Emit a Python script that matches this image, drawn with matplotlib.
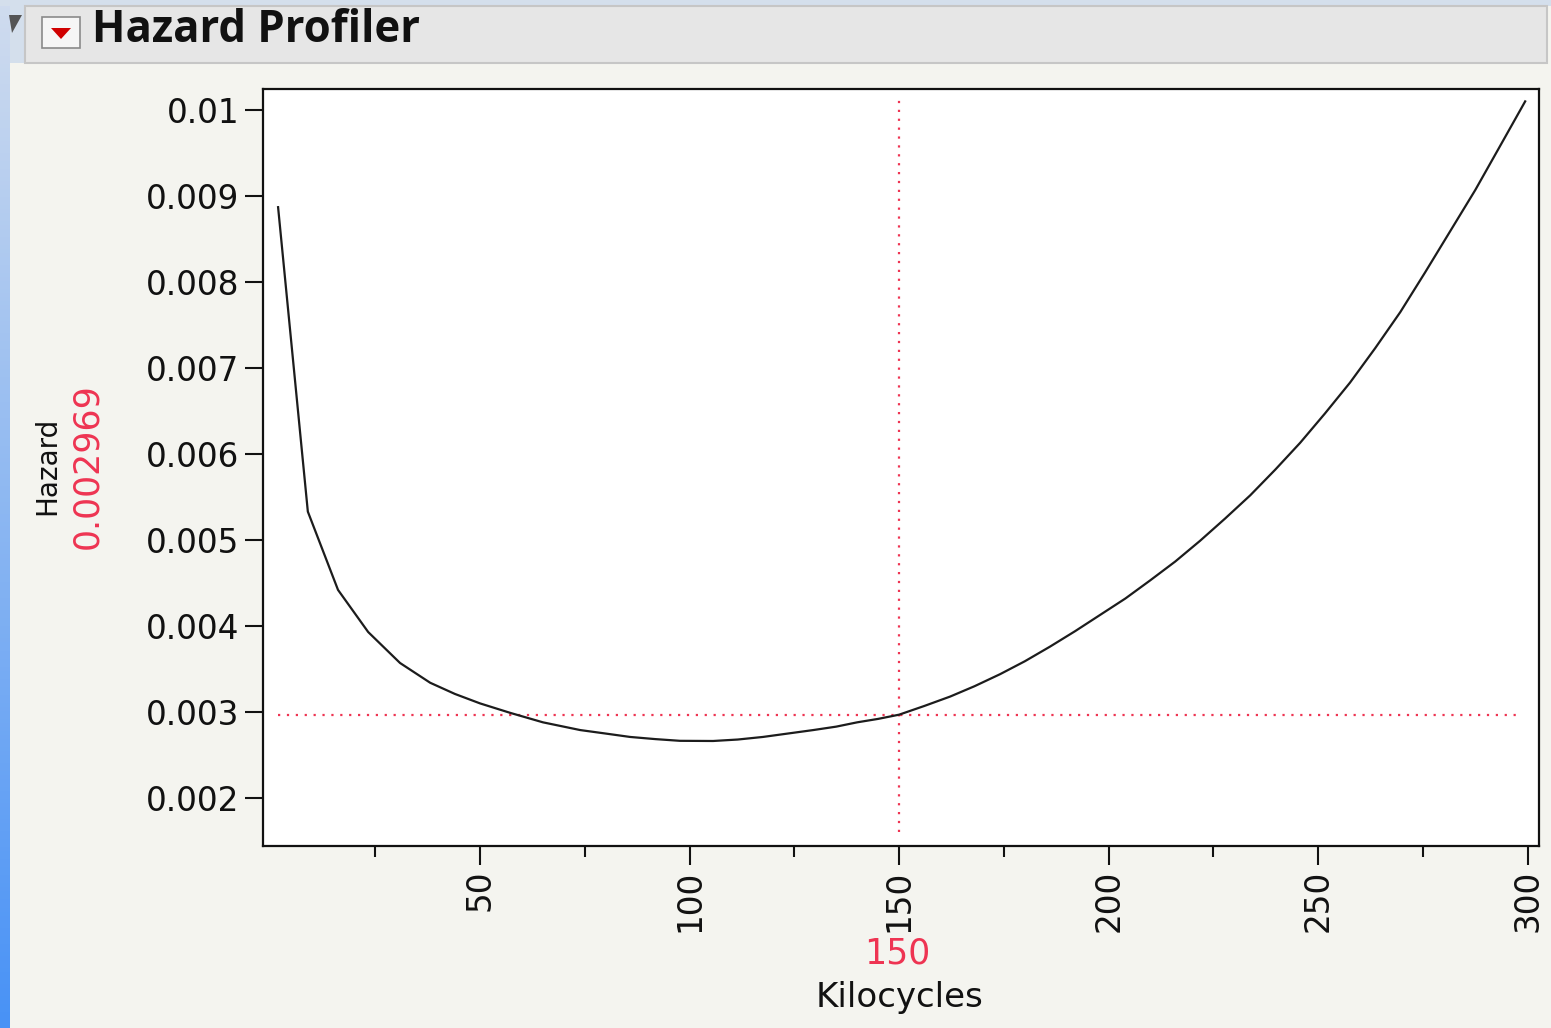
import numpy as np
import matplotlib.pyplot as plt
from matplotlib.patches import Rectangle, Polygon
from matplotlib.ticker import FixedLocator, FixedFormatter

# hazard curve values (kilocycles vs hazard)
kilocycles = [1.8, 8.9, 16.1, 23.3, 30.9, 38.1, 44.0, 50.0, 57.2, 65.0, 73.9,
              79.9, 85.8, 91.8, 97.7, 105.6, 111.5, 117.5, 123.5, 129.5,
              135.0, 140.0, 145.0, 150.0, 156.0, 162.2, 168.0, 174.1, 180.0,
              186.0, 192.0, 198.0, 204.0, 209.9, 215.9, 221.8, 227.8, 233.8,
              239.8, 245.7, 251.6, 257.6, 263.6, 269.6, 275.5, 281.5, 287.5,
              293.4, 296.4, 299.4]
hazard = [0.00887, 0.00533, 0.00442, 0.00393, 0.00357, 0.00334, 0.00321,
          0.00310, 0.00299, 0.00288, 0.00279, 0.00275, 0.00271, 0.002685,
          0.002665, 0.002663, 0.00268, 0.00271, 0.00275, 0.00279, 0.00283,
          0.00288, 0.00292, 0.002969, 0.00307, 0.00318, 0.00330, 0.00344,
          0.00359, 0.00376, 0.00394, 0.00413, 0.00432, 0.00453, 0.00475,
          0.00499, 0.00525, 0.00552, 0.00582, 0.00613, 0.00647, 0.00683,
          0.00723, 0.00765, 0.00811, 0.00859, 0.00907, 0.00958, 0.00984,
          0.01010]

current_x = 150
current_hazard = 0.002969

x_ticks = [50, 100, 150, 200, 250, 300]
x_minor = [25, 75, 125, 175, 225, 275]
y_ticks = [0.002, 0.003, 0.004, 0.005, 0.006, 0.007, 0.008, 0.009, 0.01]
y_tick_labels = ['0.002', '0.003', '0.004', '0.005', '0.006', '0.007',
                 '0.008', '0.009', '0.01']

RED = '#ee3452'
W, H = 1551, 1028

fig = plt.figure(figsize=(W / 100, H / 100), dpi=100)
fig.patch.set_facecolor('#f4f4ef')

# window chrome drawn in pixel coordinates
bg = fig.add_axes([0, 0, 1, 1], zorder=-1)
bg.set_xlim(0, W)
bg.set_ylim(H, 0)
bg.axis('off')

top_c = np.array([208, 220, 238]) / 255
bot_c = np.array([72, 146, 246]) / 255
t = np.linspace(0, 1, 256)[:, None, None]
grad = top_c * (1 - t) + bot_c * t
bg.imshow(grad, extent=(0, 10, H, 0), aspect='auto', zorder=1)
bg.add_patch(Rectangle((0, 0), W, 6, fc='#d4dfec', ec='none', zorder=1))
bg.add_patch(Rectangle((10, 0), 15, 63, fc='#d4dfec', ec='none', zorder=1))

bg.add_patch(Rectangle((25, 6), 1522, 57, fc='#e6e6e6', ec='#c6c6c6',
                       lw=1.5, zorder=2))
bg.add_patch(Rectangle((42, 17), 38, 31, fc='#f6f6f6', ec='#8a8a8a',
                       lw=1.2, zorder=3))
bg.add_patch(Polygon([(51, 28), (71, 28), (61, 39)], closed=True,
                     fc='#d00000', ec='none', zorder=4))
bg.add_patch(Polygon([(9, 15), (22, 15), (12, 33)], closed=True,
                     fc='#555555', ec='none', zorder=4))
bg.text(92, 30, 'Hazard Profiler', fontsize=31.5, fontweight='bold',
        family='Open Sans', ha='left', va='center', color='#111111', zorder=5)

# profiler plot
left, right, top, bottom = 263, 1539, 89, 846
ax = fig.add_axes([left / W, 1 - bottom / H, (right - left) / W,
                   (bottom - top) / H])
ax.set_facecolor('white')

ax.plot(kilocycles, hazard, color='#1c1c1c', lw=1.6, zorder=3)
ax.axvline(current_x, ymin=0.018, ymax=0.985, color=RED, lw=1.6,
           ls=(0, (1, 3)), zorder=2)
ax.axhline(current_hazard, xmin=0.012, xmax=0.985, color=RED, lw=1.6,
           ls=(0, (1, 3)), zorder=2)

ax.set_xlim(-1.8, 302.7)
ax.set_ylim(0.001442, 0.010244)

ax.xaxis.set_major_locator(FixedLocator(x_ticks))
ax.xaxis.set_minor_locator(FixedLocator(x_minor))
ax.yaxis.set_major_locator(FixedLocator(y_ticks))
ax.yaxis.set_major_formatter(FixedFormatter(y_tick_labels))

for sp in ax.spines.values():
    sp.set_linewidth(1.6)
    sp.set_color('#111111')

ax.tick_params(axis='y', length=13, width=1.5, labelsize=23.5, pad=4,
               colors='#111111')
ax.tick_params(axis='x', which='major', length=14, width=1.5, labelsize=23.5,
               pad=3, labelrotation=90, colors='#111111')
ax.tick_params(axis='x', which='minor', length=8, width=1.5,
               colors='#111111')

fig.text(47 / W, 1 - 466 / H, 'Hazard', rotation=90, fontsize=20,
         ha='center', va='center', color='#111111')
fig.text(87 / W, 1 - 466 / H, f'{current_hazard:.6f}', rotation=90,
         fontsize=25, ha='center', va='center', color=RED)
fig.text(897 / W, 1 - 953 / H, f'{current_x:g}', fontsize=25,
         ha='center', va='center', color=RED)
fig.text(900 / W, 1 - 998 / H, 'Kilocycles', fontsize=24.5,
         ha='center', va='center', color='#111111')

fig.savefig('out.png', dpi=100, facecolor=fig.get_facecolor())
